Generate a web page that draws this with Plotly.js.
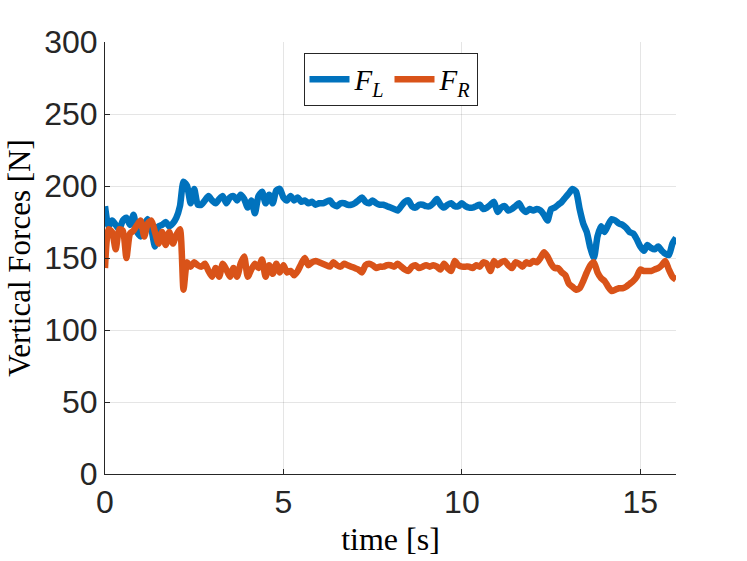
<!DOCTYPE html>
<html>
<head>
<meta charset="utf-8">
<script src="https://cdn.plot.ly/plotly-3.0.1.min.js"></script>
<style>
  html, body { margin: 0; padding: 0; background: #fff; }
  #forces { width: 747px; height: 561px; }
</style>
</head>
<body>
<div id="forces"></div>
<script>
// time stamps [s]
var time = [
  0.0, 0.1, 0.2, 0.3, 0.4, 0.5, 0.6, 0.7, 0.8, 0.9,
  1.0, 1.1, 1.2, 1.3, 1.4, 1.5, 1.6, 1.7, 1.8, 1.9,
  2.0, 2.1, 2.2, 2.3, 2.4, 2.5, 2.6, 2.7, 2.8, 2.9,
  3.0, 3.1, 3.2, 3.3, 3.4, 3.5, 3.6, 3.7, 3.8, 3.9,
  4.0, 4.1, 4.2, 4.3, 4.4, 4.5, 4.6, 4.7, 4.8, 4.9,
  5.0, 5.1, 5.2, 5.3, 5.4, 5.5, 5.6, 5.7, 5.8, 5.9,
  6.0, 6.1, 6.2, 6.3, 6.4, 6.5, 6.6, 6.7, 6.8, 6.9,
  7.0, 7.1, 7.2, 7.3, 7.4, 7.5, 7.6, 7.7, 7.8, 7.9,
  8.0, 8.1, 8.2, 8.3, 8.4, 8.5, 8.6, 8.7, 8.8, 8.9,
  9.0, 9.1, 9.2, 9.3, 9.4, 9.5, 9.6, 9.7, 9.8, 9.9,
  10.0, 10.1, 10.2, 10.3, 10.4, 10.5, 10.6, 10.7, 10.8, 10.9,
  11.0, 11.1, 11.2, 11.3, 11.4, 11.5, 11.6, 11.7, 11.8, 11.9,
  12.0, 12.1, 12.2, 12.3, 12.4, 12.5, 12.6, 12.7, 12.8, 12.9,
  13.0, 13.1, 13.2, 13.3, 13.4, 13.5, 13.6, 13.7, 13.8, 13.9,
  14.0, 14.1, 14.2, 14.3, 14.4, 14.5, 14.6, 14.7, 14.8, 14.9,
  15.0, 15.1, 15.2, 15.3, 15.4, 15.5, 15.6, 15.7, 15.8, 15.9,
  16.0
];

// left foot vertical force [N]
var forceLeft = [
  186, 172, 176, 173, 170, 176, 178, 173, 180, 168,
  165, 173, 177, 170, 158, 172, 173, 175, 172, 174,
  178, 186, 203, 200, 188, 198, 187, 187, 190, 193,
  190, 188, 191, 193, 188, 192, 193, 190, 194, 191,
  185, 190, 181, 193, 196, 188, 194, 188, 197, 198,
  192, 190, 193, 190, 192, 189, 190, 188, 189, 187,
  188, 188, 189, 190, 187, 186, 188, 188, 187, 187,
  188, 190, 192, 189, 188, 190, 188, 187, 187, 186,
  185, 184, 183, 186, 189, 190, 186, 185, 187, 187,
  186, 186, 188, 191, 187, 185, 187, 188, 186, 186,
  188, 186, 185, 185, 186, 187, 184, 185, 187, 189,
  182, 185, 186, 183, 184, 186, 188, 184, 182, 184,
  183, 184, 183, 180, 176, 184, 185, 187, 189, 192,
  195, 198, 196, 184, 174, 168, 157, 150, 165, 172,
  168, 173, 177, 176, 174, 173, 171, 168, 167, 163,
  158, 155, 159, 157, 156, 158, 155, 153, 152, 160,
  164
];

// right foot vertical force [N]
var forceRight = [
  143, 170, 168, 156, 170, 169, 150, 167, 169, 173,
  176, 165, 174, 176, 168, 160, 168, 159, 168, 160,
  166, 170, 128, 147, 144, 147, 145, 144, 146, 141,
  137, 143, 137, 146, 142, 137, 143, 137, 146, 151,
  137, 142, 146, 143, 149, 137, 145, 139, 146, 140,
  145, 140, 141, 138, 141, 146, 150, 145, 147, 148,
  147, 146, 145, 144, 147, 145, 144, 146, 145, 144,
  143, 142, 140, 145, 146, 145, 143, 144, 144, 145,
  145, 144, 146, 144, 142, 141, 144, 145, 143, 144,
  145, 144, 145, 144, 142, 146, 143, 141, 148, 145,
  144, 144, 144, 143, 145, 144, 147, 146, 141, 148,
  145, 147, 148, 145, 143, 147, 146, 144, 147, 146,
  148, 147, 150, 154, 151, 146, 143, 143, 140, 138,
  132, 130, 128, 129, 134, 140, 145, 147, 140, 136,
  134, 130, 127, 128, 129, 129, 130, 132, 134, 137,
  142, 141, 141, 141, 142, 143, 145, 148, 142, 137,
  135
];

var traceLeft = {
  x: time,
  y: forceLeft,
  name: '<i>F</i><sub><i>L</i></sub>',
  type: 'scatter',
  mode: 'lines',
  line: {color: '#0072BD', width: 6.5, shape: 'spline', smoothing: 0.6}
};

var traceRight = {
  x: time,
  y: forceRight,
  name: '<i>F</i><sub><i>R</i></sub>',
  type: 'scatter',
  mode: 'lines',
  line: {color: '#D95319', width: 6.5, shape: 'spline', smoothing: 0.6}
};

var axisColor = '#262626';
var gridColor = 'rgba(38,38,38,0.12)';

var layout = {
  width: 747,
  height: 561,
  margin: {l: 105, r: 71, t: 42, b: 87},
  paper_bgcolor: '#fff',
  plot_bgcolor: '#fff',
  font: {family: 'Liberation Sans, Arial, sans-serif', size: 32, color: axisColor},
  showlegend: true,
  legend: {
    orientation: 'h',
    x: 0.5,
    xanchor: 'center',
    y: 0.975,
    yanchor: 'top',
    bgcolor: '#fff',
    bordercolor: axisColor,
    borderwidth: 1,
    itemwidth: 40,
    font: {family: 'Liberation Serif, Times New Roman, serif', size: 29, color: '#000'}
  },
  xaxis: {
    range: [0, 16],
    tickvals: [0, 5, 10, 15],
    ticks: 'inside',
    ticklen: 5,
    tickcolor: axisColor,
    showline: true,
    linecolor: axisColor,
    linewidth: 1,
    showgrid: true,
    gridcolor: gridColor,
    zeroline: false,
    title: {
      text: 'time [s]',
      standoff: 8,
      font: {family: 'Liberation Serif, Times New Roman, serif', size: 32, color: '#000'}
    }
  },
  yaxis: {
    range: [0, 300],
    tickvals: [0, 50, 100, 150, 200, 250, 300],
    ticks: 'inside',
    ticklen: 5,
    tickcolor: axisColor,
    showline: true,
    linecolor: axisColor,
    linewidth: 1,
    showgrid: true,
    gridcolor: gridColor,
    zeroline: false,
    title: {
      text: 'Vertical Forces [N]',
      standoff: 4,
      font: {family: 'Liberation Serif, Times New Roman, serif', size: 31, color: '#000'}
    }
  }
};

Plotly.newPlot('forces', [traceLeft, traceRight], layout, {staticPlot: true, displayModeBar: false});
</script>
</body>
</html>
